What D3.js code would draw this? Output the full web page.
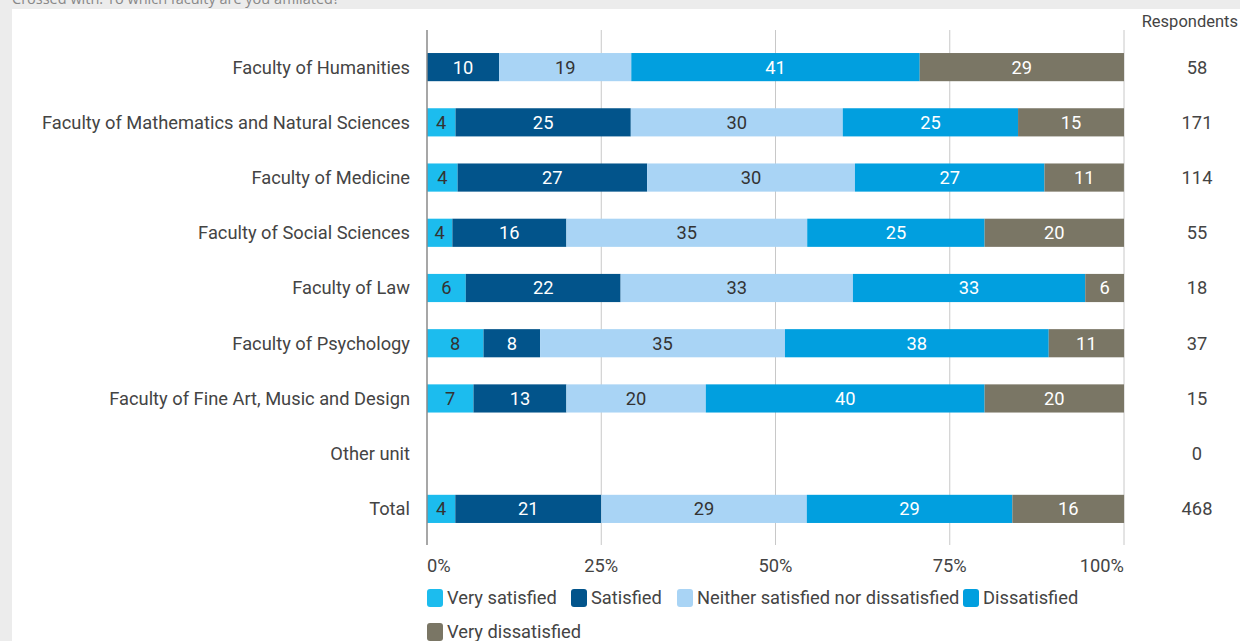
<!DOCTYPE html>
<html><head><meta charset="utf-8">
<script src="https://cdn.jsdelivr.net/npm/d3@7"></script>
<style>
html,body{margin:0;padding:0;background:#ececec;overflow:hidden;}
svg{display:block;}
</style></head>
<body>
<svg id="chart" width="1240" height="641"></svg>
<script>
const categories = ["Faculty of Humanities","Faculty of Mathematics and Natural Sciences","Faculty of Medicine","Faculty of Social Sciences","Faculty of Law","Faculty of Psychology","Faculty of Fine Art, Music and Design","Other unit","Total"];
const seriesNames = ["Very satisfied","Satisfied","Neither satisfied nor dissatisfied","Dissatisfied","Very dissatisfied"];
const verySatisfied   = [0, 4.09, 4.39, 3.64, 5.56, 8.11, 6.67, 0, 4.06];
const satisfied       = [10.34, 25.15, 27.19, 16.36, 22.22, 8.11, 13.33, 0, 20.94];
const neither         = [18.97, 30.41, 29.82, 34.55, 33.33, 35.14, 20.00, 0, 29.49];
const dissatisfied    = [41.38, 25.15, 27.19, 25.45, 33.33, 37.84, 40.00, 0, 29.49];
const veryDissatisfied= [29.31, 15.20, 11.40, 20.00, 5.56, 10.81, 20.00, 0, 16.03];
const respondents = [58, 171, 114, 55, 18, 37, 15, 0, 468];
const xTicks = [0, 25, 50, 75, 100];
const title = "Crossed with: To which faculty are you affiliated?";
const respondentsHeader = "Respondents";

const colors = ["#1cbcee", "#02548b", "#a9d4f5", "#019fdf", "#7a7665"];
const textColors = ["#333", "#fff", "#333", "#fff", "#fff"];
const seriesValues = [verySatisfied, satisfied, neither, dissatisfied, veryDissatisfied];

const svg = d3.select("#chart");
const font = "Roboto, 'Noto Sans', sans-serif";
const fs = 18.3;

// background panel
svg.append("rect").attr("x",12).attr("y",9).attr("width",1228).attr("height",632).attr("fill","#fff");
svg.append("text").attr("x",12).attr("y",4).attr("fill","#888").attr("font-family","'Open Sans', sans-serif").attr("font-size",14.5).text(title);

const x = d3.scaleLinear().domain([0,100]).range([427,1124]);
const y = d3.scaleBand().domain(categories).range([39.5,536.5]).paddingInner(0.49).paddingOuter(0.245);

// grid
const g = svg.append("g");
g.selectAll("line.grid").data(xTicks.slice(1)).join("line")
  .attr("x1",d=>x(d)).attr("x2",d=>x(d)).attr("y1",30).attr("y2",545)
  .attr("stroke","#c8c8c8").attr("stroke-width",1);

// stacked data
const rows = categories.map((c,i)=>{
  let acc=0;
  return seriesValues.map((s,k)=>{ const v=s[i]; const seg={cat:c,k,v,x0:acc,x1:acc+v}; acc+=v; return seg;});
});
const segs = rows.flat().filter(d=>d.v>0);
g.selectAll("rect.seg").data(segs).join("rect")
  .attr("x",d=>x(d.x0)).attr("width",d=>x(d.x1)-x(d.x0))
  .attr("y",d=>y(d.cat)).attr("height",y.bandwidth())
  .attr("fill",d=>colors[d.k]);
g.selectAll("text.seg").data(segs).join("text")
  .attr("x",d=>(x(d.x0)+x(d.x1))/2).attr("y",d=>y(d.cat)+y.bandwidth()/2)
  .attr("dy","0.35em").attr("text-anchor","middle")
  .attr("font-family",font).attr("font-size",fs).attr("fill",d=>textColors[d.k])
  .text(d=>Math.round(d.v));

// zero axis line
g.append("line").attr("x1",x(0)).attr("x2",x(0)).attr("y1",30).attr("y2",545).attr("stroke","#8a8a8a").attr("stroke-width",1.5);

// category labels
g.selectAll("text.cat").data(categories).join("text")
  .attr("x",410).attr("y",d=>y(d)+y.bandwidth()/2).attr("dy","0.35em")
  .attr("text-anchor","end").attr("font-family",font).attr("font-size",fs).attr("fill","#444")
  .text(d=>d);

// respondents
g.append("text").attr("x",1238).attr("y",27).attr("text-anchor","end").attr("font-family",font).attr("font-size",16.5).attr("fill","#444").text(respondentsHeader);
g.selectAll("text.resp").data(categories).join("text")
  .attr("x",1197).attr("y",d=>y(d)+y.bandwidth()/2).attr("dy","0.35em")
  .attr("text-anchor","middle").attr("font-family",font).attr("font-size",fs).attr("fill","#444")
  .text((d,i)=>respondents[i]);

// tick labels
g.selectAll("text.tick").data(xTicks).join("text")
  .attr("x",d=>x(d)).attr("y",566).attr("dy","0.35em")
  .attr("text-anchor",(d,i)=>i===0?"start":(i===xTicks.length-1?"end":"middle"))
  .attr("font-family",font).attr("font-size",fs).attr("fill","#444")
  .text(d=>d+"%");

// legend
const legendPos = [[427,598],[571,598],[677,598],[963,598],[427,632]];
const lg = g.selectAll("g.leg").data(seriesNames).join("g")
  .attr("transform",(d,i)=>`translate(${legendPos[i][0]},${legendPos[i][1]})`);
lg.append("rect").attr("x",0).attr("y",-9).attr("width",16).attr("height",18).attr("rx",3)
  .attr("fill",(d,i)=>colors[i]);
lg.append("text").attr("x",20).attr("y",0).attr("dy","0.35em").attr("font-family",font).attr("font-size",fs).attr("fill","#444").text(d=>d);
</script>
</body></html>
